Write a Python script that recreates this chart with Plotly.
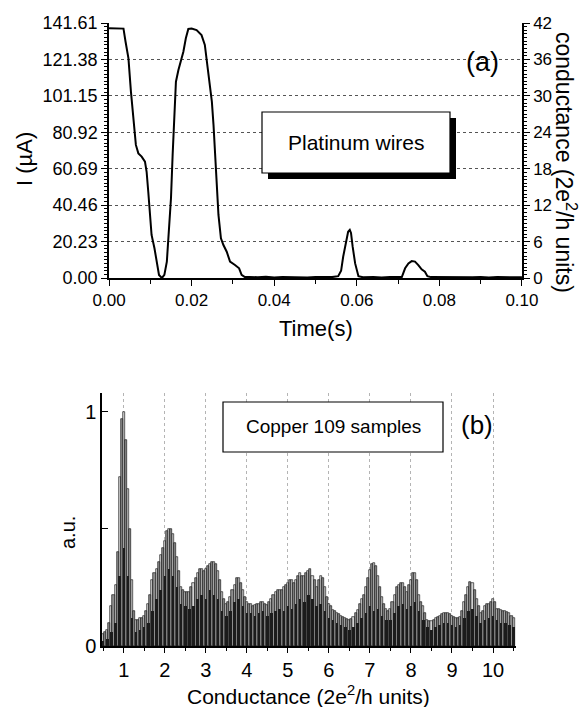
import numpy as np
import plotly.graph_objects as go

# ---------------- Panel (a): current trace of platinum wires ----------------
time_s = [0.0000, 0.0010, 0.0020, 0.0030, 0.0035, 0.0040, 0.0047, 0.0053, 0.0059, 0.0065,
          0.0071, 0.0079, 0.0087, 0.0091, 0.0095, 0.0099, 0.0103, 0.0110, 0.0115, 0.0121,
          0.0128, 0.0134, 0.0140, 0.0145, 0.0150, 0.0154, 0.0158, 0.0162, 0.0168, 0.0174,
          0.0180, 0.0186, 0.0192, 0.0200, 0.0212, 0.0224, 0.0232, 0.0239, 0.0245, 0.0249,
          0.0253, 0.0257, 0.0261, 0.0265, 0.0271, 0.0277, 0.0285, 0.0293, 0.0305, 0.0315,
          0.0321, 0.0329, 0.0340, 0.0360, 0.0380, 0.0400, 0.0420, 0.0440, 0.0460, 0.0480,
          0.0500, 0.0520, 0.0540, 0.0555, 0.0562, 0.0567, 0.0574, 0.0579, 0.0583, 0.0586,
          0.0590, 0.0596, 0.0604, 0.0615, 0.0640, 0.0660, 0.0680, 0.0700, 0.0709, 0.0717,
          0.0725, 0.0733, 0.0741, 0.0749, 0.0757, 0.0765, 0.0771, 0.0780, 0.0800, 0.0820,
          0.0840, 0.0860, 0.0880, 0.0900, 0.0920, 0.0940, 0.0960, 0.0980, 0.1000]
current_uA = [138.7, 138.7, 138.6, 138.7, 138.5, 131.2, 122.0, 103.5, 86.8, 73.9,
              69.2, 67.4, 64.6, 59.0, 47.9, 33.1, 23.9, 16.5, 9.1, 1.7,
              0.0, 1.7, 9.1, 25.7, 44.3, 68.3, 90.5, 109.0, 115.5, 120.1,
              125.7, 133.1, 138.3, 138.5, 137.7, 134.9, 129.4, 116.4, 103.5, 97.9,
              85.0, 66.5, 49.8, 35.0, 22.0, 18.3, 14.6, 9.1, 7.2, 5.4,
              1.7, 0.5, 0.6, 0.4, 0.7, 0.3, 0.6, 0.4, 0.5, 0.3,
              0.6, 0.4, 0.5, 1.0, 4.0, 11.8, 20.2, 25.7, 26.7, 25.0,
              17.4, 8.1, 1.0, 0.4, 0.5, 0.3, 0.6, 0.4, 0.5, 5.4,
              8.1, 9.4, 9.1, 7.2, 4.8, 3.5, 1.0, 0.5, 0.4, 0.6,
              0.3, 0.5, 0.4, 0.6, 0.3, 0.5, 0.4, 0.5, 0.4]

I_TICK_STEP = 20.23          # µA per left tick
G_TICK_STEP = 6              # conductance units per right tick
I_MAX = 141.61
G_MAX = 42

# ---------------- Panel (b): conductance histogram, Copper 109 samples ----------------
bins = np.round(np.arange(0.5, 10.501, 0.1), 2)
half_bins = np.round(bins[:-1] + 0.05, 3)

hist_envelope = [0.05, 0.07, 0.17, 0.26, 0.72, 1.00, 0.67, 0.28, 0.11, 0.12,
                 0.13, 0.18, 0.28, 0.33, 0.39, 0.45, 0.50, 0.48, 0.38, 0.25,
                 0.23, 0.23, 0.27, 0.31, 0.33, 0.33, 0.35, 0.36, 0.32, 0.23,
                 0.18, 0.21, 0.26, 0.29, 0.24, 0.19, 0.18, 0.175, 0.18, 0.19,
                 0.175, 0.20, 0.23, 0.24, 0.25, 0.27, 0.28, 0.28, 0.31, 0.30,
                 0.32, 0.30, 0.25, 0.30, 0.25, 0.18, 0.155, 0.14, 0.13, 0.12,
                 0.11, 0.125, 0.155, 0.20, 0.25, 0.325, 0.355, 0.30, 0.21, 0.16,
                 0.16, 0.22, 0.26, 0.27, 0.23, 0.28, 0.31, 0.22, 0.17, 0.11,
                 0.105, 0.12, 0.13, 0.14, 0.14, 0.13, 0.12, 0.125, 0.19, 0.25,
                 0.27, 0.20, 0.14, 0.17, 0.18, 0.20, 0.16, 0.155, 0.15, 0.14,
                 0.12]
hist_half = [0.06, 0.10, 0.22, 0.40, 0.97, 0.88, 0.50, 0.15, 0.11, 0.12,
             0.15, 0.22, 0.31, 0.36, 0.42, 0.49, 0.50, 0.44, 0.32, 0.24,
             0.23, 0.25, 0.29, 0.33, 0.32, 0.34, 0.36, 0.35, 0.28, 0.20,
             0.19, 0.24, 0.29, 0.27, 0.21, 0.18, 0.17, 0.18, 0.19, 0.18,
             0.19, 0.22, 0.24, 0.24, 0.26, 0.28, 0.27, 0.30, 0.30, 0.31,
             0.33, 0.28, 0.28, 0.29, 0.21, 0.17, 0.15, 0.135, 0.125, 0.115,
             0.115, 0.14, 0.18, 0.22, 0.29, 0.35, 0.34, 0.25, 0.18, 0.15,
             0.19, 0.25, 0.27, 0.25, 0.26, 0.31, 0.28, 0.19, 0.14, 0.105,
             0.11, 0.125, 0.135, 0.14, 0.135, 0.125, 0.12, 0.15, 0.22, 0.275,
             0.24, 0.17, 0.15, 0.18, 0.19, 0.19, 0.16, 0.15, 0.145, 0.13]
hist_core = [0.02, 0.03, 0.06, 0.10, 0.30, 0.42, 0.30, 0.12, 0.06, 0.07,
             0.08, 0.10, 0.15, 0.20, 0.24, 0.30, 0.33, 0.30, 0.25, 0.18,
             0.17, 0.16, 0.17, 0.20, 0.22, 0.20, 0.24, 0.22, 0.20, 0.15,
             0.13, 0.15, 0.19, 0.20, 0.17, 0.14, 0.14, 0.13, 0.14, 0.15,
             0.13, 0.14, 0.15, 0.16, 0.15, 0.17, 0.16, 0.18, 0.20, 0.19,
             0.22, 0.20, 0.17, 0.18, 0.15, 0.12, 0.11, 0.10, 0.09, 0.08,
             0.07, 0.08, 0.10, 0.12, 0.14, 0.17, 0.15, 0.16, 0.13, 0.11,
             0.11, 0.14, 0.17, 0.18, 0.16, 0.17, 0.19, 0.15, 0.11, 0.08,
             0.07, 0.08, 0.09, 0.10, 0.10, 0.09, 0.08, 0.09, 0.12, 0.15,
             0.16, 0.13, 0.10, 0.11, 0.12, 0.13, 0.11, 0.10, 0.10, 0.09,
             0.08]
cond_ticks = [1, 2, 3, 4, 5, 6, 7, 8, 9, 10]
au_ticks = [0, 1]
au_mid_tick = [0.5]

# ---------------- helpers (pixel -> paper) ----------------
W, H = 586, 707
def fx(p):
    return p / W
def fy(p):
    return 1 - p / H

FONT = "Liberation Sans, Arial, Helvetica, sans-serif"

fig = go.Figure()

fig.add_trace(go.Scatter(x=time_s, y=current_uA, mode="lines",
                         line=dict(color="black", width=2),
                         xaxis="x", yaxis="y", showlegend=False, hoverinfo="skip"))
fig.add_trace(go.Scatter(x=[None], y=[None], xaxis="x", yaxis="y2",
                         showlegend=False, hoverinfo="skip"))

fig.add_trace(go.Bar(x=bins, y=hist_envelope, width=0.05,
                     marker=dict(color="#d2d2d2", line=dict(color="black", width=0.6)),
                     xaxis="x2", yaxis="y3", showlegend=False))
fig.add_trace(go.Bar(x=half_bins, y=hist_half, width=0.05,
                     marker=dict(color="#8e8e8e", line=dict(color="black", width=0.6)),
                     xaxis="x2", yaxis="y3", showlegend=False))
fig.add_trace(go.Bar(x=bins, y=hist_core, width=0.06,
                     marker=dict(color="#1c1c1c", line=dict(width=0)),
                     xaxis="x2", yaxis="y3", showlegend=False))

axis_common = dict(showline=True, linecolor="black", linewidth=1.5, zeroline=False,
                   tickcolor="black", tickwidth=1.2, automargin=False)

fig.update_layout(
    width=W, height=H,
    margin=dict(l=0, r=0, t=0, b=0, autoexpand=False),
    paper_bgcolor="white", plot_bgcolor="white",
    barmode="overlay", bargap=0,
    font=dict(family=FONT, color="black"),
    xaxis=dict(domain=[fx(109), fx(522)], anchor="y", range=[-0.00001, 0.10001],
               tick0=0, dtick=0.02, tickformat=".2f", ticks="outside", ticklen=6,
               showgrid=False, tickfont=dict(size=17),
               minor=dict(dtick=0.01, ticks="outside", ticklen=4, tickcolor="black", showgrid=False),
               **axis_common),
    yaxis=dict(domain=[fy(278), fy(23)], anchor="x", range=[0, I_MAX + 0.005],
               tick0=0, dtick=I_TICK_STEP, tickformat=".2f", ticks="outside", ticklen=6,
               showgrid=True, gridcolor="#555555", griddash="dot", gridwidth=1,
               tickfont=dict(size=18),
               minor=dict(dtick=I_TICK_STEP / 10, ticks="outside", ticklen=3, tickcolor="black", showgrid=False),
               **axis_common),
    yaxis2=dict(overlaying="y", side="right", anchor="x",
                range=[0, (I_MAX + 0.005) * G_MAX / I_MAX],
                tick0=0, dtick=G_TICK_STEP, ticks="outside", ticklen=6,
                showgrid=False, tickfont=dict(size=17),
                minor=dict(dtick=G_TICK_STEP / 10, ticks="outside", ticklen=3, tickcolor="black", showgrid=False),
                **axis_common),
    xaxis2=dict(domain=[fx(102), fx(516)], anchor="y3", range=[0.47, 10.56],
                tickmode="array", tickvals=cond_ticks, ticks="outside", ticklen=5,
                showgrid=True, gridcolor="#b4b4b4", griddash="dot", gridwidth=1,
                tickfont=dict(size=20),
                minor=dict(dtick=0.5, tick0=0.5, ticks="outside", ticklen=3, tickcolor="black", showgrid=False),
                **axis_common),
    yaxis3=dict(domain=[fy(646), fy(393)], anchor="x2", range=[0, 1.081],
                tickmode="array", tickvals=au_ticks,
                ticks="inside", ticklen=6, showgrid=False, tickfont=dict(size=20),
                minor=dict(tickmode="array", tickvals=au_mid_tick, ticks="inside", ticklen=6,
                           tickcolor="black", showgrid=False),
                **axis_common),
)

shapes = [
    # Platinum wires box with drop shadow
    dict(type="rect", xref="paper", yref="paper", x0=fx(268), x1=fx(456), y0=fy(179), y1=fy(118),
         fillcolor="black", line=dict(width=0), layer="above"),
    dict(type="rect", xref="paper", yref="paper", x0=fx(262), x1=fx(450), y0=fy(173), y1=fy(112),
         fillcolor="white", line=dict(color="black", width=1.2), layer="above"),
    # Copper box
    dict(type="rect", xref="paper", yref="paper", x0=fx(223), x1=fx(443), y0=fy(452), y1=fy(402),
         fillcolor="white", line=dict(color="black", width=1.2), layer="above"),
]

annotations = [
    dict(text="Platinum wires", x=fx(356), y=fy(142), font=dict(size=21)),
    dict(text="(a)", x=fx(482), y=fy(62), font=dict(size=27)),
    dict(text="Time(s)", x=fx(316), y=fy(328), font=dict(size=22)),
    dict(text="I (µA)", x=fx(24), y=fy(159), font=dict(size=22), textangle=-90),
    dict(text="conductance (2e<sup>2</sup>/h units)", x=fx(566), y=fy(162), font=dict(size=23), textangle=90),
    dict(text="Copper 109 samples", x=fx(333), y=fy(426), font=dict(size=19)),
    dict(text="(b)", x=fx(477), y=fy(425), font=dict(size=26)),
    dict(text="a.u.", x=fx(68), y=fy(533), font=dict(size=20), textangle=-90),
    dict(text="Conductance (2e<sup>2</sup>/h units)", x=fx(308), y=fy(695), font=dict(size=21)),
]
for a in annotations:
    a.update(xref="paper", yref="paper", showarrow=False, xanchor="center", yanchor="middle")
    a["font"].update(family=FONT, color="black")

fig.update_layout(shapes=shapes, annotations=annotations)
fig.write_html("out.html")
